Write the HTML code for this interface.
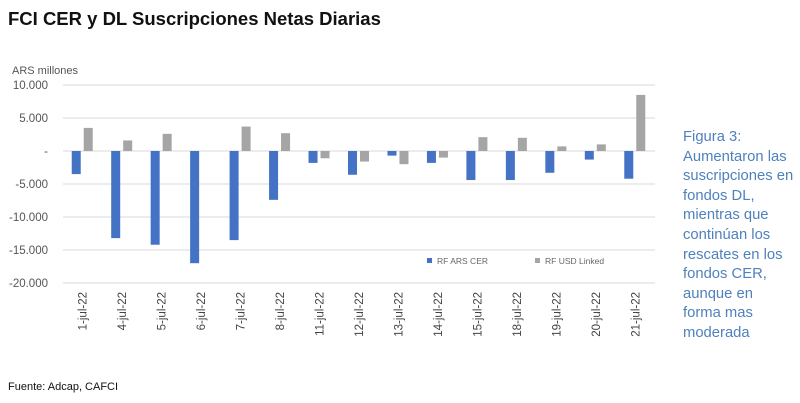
<!DOCTYPE html>
<html><head><meta charset="utf-8"><style>
body{margin:0;width:800px;height:403px;background:#fff;font-family:"Liberation Sans",sans-serif;overflow:hidden;position:relative}
#title{position:absolute;left:8px;top:8px;font-size:18.5px;font-weight:bold;color:#111}
#note{position:absolute;left:683px;top:128px;font-size:14.8px;line-height:19.6px;color:#4f81bd}
#src{position:absolute;left:8px;top:381px;font-size:11px;color:#111}
</style></head><body>
<div id="title">FCI CER y DL Suscripciones Netas Diarias</div>
<svg id="chart" width="800" height="403" style="position:absolute;left:0;top:0"></svg>
<div id="note">Figura 3:<br>Aumentaron las<br>suscripciones en<br>fondos DL,<br>mientras que<br>continúan los<br>rescates en los<br>fondos CER,<br>aunque en<br>forma mas<br>moderada</div>
<div id="src">Fuente: Adcap, CAFCI</div>
<script>
const categories=["1-jul-22","4-jul-22","5-jul-22","6-jul-22","7-jul-22","8-jul-22","11-jul-22","12-jul-22","13-jul-22","14-jul-22","15-jul-22","18-jul-22","19-jul-22","20-jul-22","21-jul-22"];
const cerValues=[-3500,-13200,-14200,-17000,-13500,-7400,-1800,-3600,-700,-1800,-4400,-4400,-3300,-1300,-4200];
const usdValues=[3500,1600,2600,0,3700,2700,-1100,-1600,-2000,-1000,2100,2000,700,1000,8500];
const tickValues=[10000,5000,0,-5000,-10000,-15000,-20000];
const tickLabels=["10.000","5.000","-","-5.000","-10.000","-15.000","-20.000"];
const svg=document.getElementById('chart');
const NS='http://www.w3.org/2000/svg';
const X0=63,X1=655,Ytop=85,Ybot=283,VMAX=10000,VMIN=-20000;
const n=categories.length,bw=(X1-X0)/n;
const y=v=>Ytop+(VMAX-v)/(VMAX-VMIN)*(Ybot-Ytop);
const xc=i=>X0+bw*(i+0.5);
function mk(t,a){const e=document.createElementNS(NS,t);for(const k in a)e.setAttribute(k,a[k]);svg.appendChild(e);return e;}
const yt=mk('text',{x:12,y:74,'font-size':11,fill:'#555'});yt.textContent='ARS millones';


tickValues.forEach((v,i)=>{
  const g=mk('line',{x1:X0,x2:X1,y1:y(v),y2:y(v),stroke:'#d9d9d9','stroke-width':1});
  
  
  const t=mk('text',{x:48,y:y(v)+4,'font-size':11.5,fill:'#555','text-anchor':'end'});
  t.textContent=tickLabels[i];
  
  
});
categories.forEach((c,i)=>{
  const cx=xc(i);
  const b1=mk('rect',{x:cx-11,width:9,y:Math.min(y(0),y(cerValues[i])),height:Math.abs(y(cerValues[i])-y(0)),fill:'#4472c4'});
  
  
  const b2=mk('rect',{x:cx+1,width:9,y:Math.min(y(0),y(usdValues[i])),height:Math.abs(y(usdValues[i])-y(0)),fill:'#a5a5a5'});
  
  
  const t=mk('text',{x:0,y:0,'font-size':11.5,fill:'#444','text-anchor':'end',transform:`translate(${cx+4},${292}) rotate(-90)`});
  t.textContent=c;
  
  
});
const leg=[['#4472c4','RF ARS CER',427],['#a5a5a5','RF USD Linked',535]];
leg.forEach(l=>{
  const r=mk('rect',{x:l[2],y:258,width:5,height:5,fill:l[0]});
  
  
  const t=mk('text',{x:l[2]+10,y:264,'font-size':8.5,fill:'#666'});t.textContent=l[1];
  
  
});
</script>
</body></html>
